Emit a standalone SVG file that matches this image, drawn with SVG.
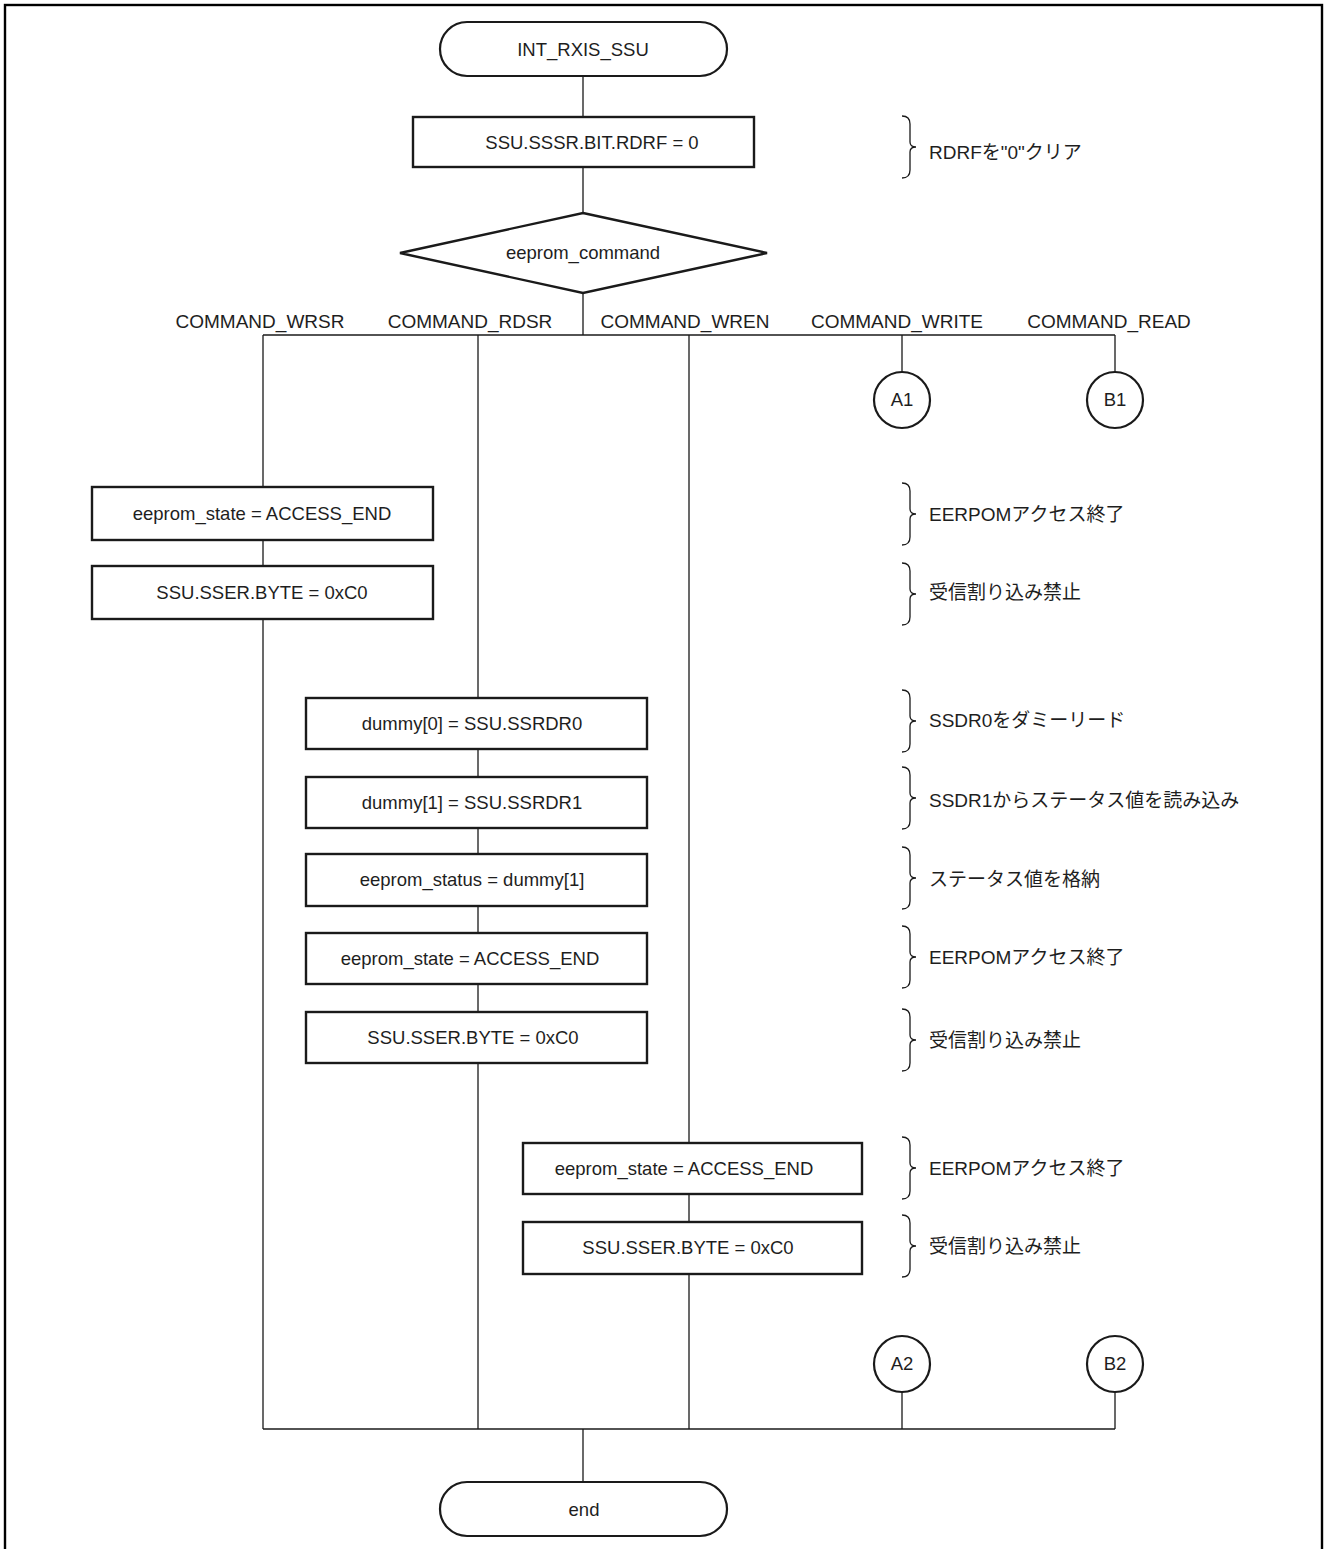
<svg xmlns="http://www.w3.org/2000/svg" width="1325" height="1549" viewBox="0 0 1325 1549">
  <style>
    .frame { fill: none; stroke: #000; stroke-width: 2.4; }
    .box { fill: #fff; stroke: #1a1a1a; stroke-width: 2.4; }
    .term { fill: #fff; stroke: #1a1a1a; stroke-width: 2.2; }
    .conn { fill: none; stroke: #1a1a1a; stroke-width: 1.3; }
    .brace { fill: none; stroke: #1a1a1a; stroke-width: 1.3; }
    text { font-family: "Liberation Sans", Arial, "Noto Sans CJK JP", sans-serif; fill: #1e1e1e; }
    .t { font-size: 18.5px; text-anchor: middle; }
    .lbl { font-size: 19px; text-anchor: middle; }
    .note { font-size: 19px; font-family: "Liberation Sans", "Noto Sans CJK JP", sans-serif; }
  </style>

  <rect class="frame" x="5" y="5" width="1317" height="1560"/>

  <!-- connectors -->
  <g id="connectors" class="conn">
    <path d="M583,76 V117 M583,167 V213 M583,293 V335"/>
    <path d="M263,335 H1115"/>
    <path d="M263,335 V487 M263,540 V566 M263,619 V1429"/>
    <path d="M478,335 V698 M478,749 V777 M478,828 V854 M478,906 V933 M478,984 V1012 M478,1063 V1429"/>
    <path d="M689,335 V1143 M689,1194 V1222 M689,1274 V1429"/>
    <path d="M902,335 V372 M1115,335 V372"/>
    <path d="M902,1392 V1429 M1115,1392 V1429"/>
    <path d="M263,1429 H1115"/>
    <path d="M583,1429 V1482"/>
  </g>

  <!-- start / end terminals -->
  <g id="start">
    <rect class="term" x="440" y="22" width="287" height="54" rx="27" ry="27"/>
    <text class="t" x="583" y="56">INT_RXIS_SSU</text>
  </g>
  <g id="end">
    <rect class="term" x="440" y="1482" width="287" height="54" rx="27" ry="27"/>
    <text class="t" x="584" y="1516">end</text>
  </g>

  <!-- clear RDRF -->
  <g id="clear-rdrf">
    <rect class="box" x="413" y="117" width="341" height="50"/>
    <text class="t" x="592" y="149">SSU.SSSR.BIT.RDRF = 0</text>
  </g>

  <!-- command switch -->
  <g id="switch">
    <polygon class="box" points="583,213 767,253 583,293 400,253"/>
    <text class="t" x="583" y="259">eeprom_command</text>
  </g>

  <!-- branch labels -->
  <g id="branch-labels">
    <text class="lbl" x="260" y="328">COMMAND_WRSR</text>
    <text class="lbl" x="470" y="328">COMMAND_RDSR</text>
    <text class="lbl" x="685" y="328">COMMAND_WREN</text>
    <text class="lbl" x="897" y="328">COMMAND_WRITE</text>
    <text class="lbl" x="1109" y="328">COMMAND_READ</text>
  </g>

  <!-- off-page connectors -->
  <g id="conn-a1"><circle class="term" cx="902" cy="400" r="28"/><text class="t" x="902" y="406">A1</text></g>
  <g id="conn-b1"><circle class="term" cx="1115" cy="400" r="28"/><text class="t" x="1115" y="406">B1</text></g>
  <g id="conn-a2"><circle class="term" cx="902" cy="1364" r="28"/><text class="t" x="902" y="1370">A2</text></g>
  <g id="conn-b2"><circle class="term" cx="1115" cy="1364" r="28"/><text class="t" x="1115" y="1370">B2</text></g>

  <!-- WRSR branch -->
  <g id="wrsr-state">
    <rect class="box" x="92" y="487" width="341" height="53"/>
    <text class="t" x="262" y="520">eeprom_state = ACCESS_END</text>
  </g>
  <g id="wrsr-sser">
    <rect class="box" x="92" y="566" width="341" height="53"/>
    <text class="t" x="262" y="599">SSU.SSER.BYTE = 0xC0</text>
  </g>

  <!-- RDSR branch -->
  <g id="rdsr-dummy0">
    <rect class="box" x="306" y="698" width="341" height="51"/>
    <text class="t" x="472" y="730">dummy[0] = SSU.SSRDR0</text>
  </g>
  <g id="rdsr-dummy1">
    <rect class="box" x="306" y="777" width="341" height="51"/>
    <text class="t" x="472" y="809">dummy[1] = SSU.SSRDR1</text>
  </g>
  <g id="rdsr-status">
    <rect class="box" x="306" y="854" width="341" height="52"/>
    <text class="t" x="472" y="886">eeprom_status = dummy[1]</text>
  </g>
  <g id="rdsr-state">
    <rect class="box" x="306" y="933" width="341" height="51"/>
    <text class="t" x="470" y="965">eeprom_state = ACCESS_END</text>
  </g>
  <g id="rdsr-sser">
    <rect class="box" x="306" y="1012" width="341" height="51"/>
    <text class="t" x="473" y="1044">SSU.SSER.BYTE = 0xC0</text>
  </g>

  <!-- WREN branch -->
  <g id="wren-state">
    <rect class="box" x="523" y="1143" width="339" height="51"/>
    <text class="t" x="684" y="1175">eeprom_state = ACCESS_END</text>
  </g>
  <g id="wren-sser">
    <rect class="box" x="523" y="1222" width="339" height="52"/>
    <text class="t" x="688" y="1254">SSU.SSER.BYTE = 0xC0</text>
  </g>

  <!-- side notes: brace + comment -->
  <defs>
    <path id="br" class="brace" d="M902,-31 Q910,-31 910,-23 V-5 Q910,0 916,0 Q910,0 910,5 V23 Q910,31 902,31"/>
  </defs>
  <g id="note-rdrf"><use href="#br" y="147"/><text class="note" x="929" y="159">RDRFを"0"クリア</text></g>
  <g id="note-end1"><use href="#br" y="514"/><text class="note" x="929" y="521">EERPOMアクセス終了</text></g>
  <g id="note-dis1"><use href="#br" y="594"/><text class="note" x="929" y="599">受信割り込み禁止</text></g>
  <g id="note-ssdr0"><use href="#br" y="721"/><text class="note" x="929" y="727">SSDR0をダミーリード</text></g>
  <g id="note-ssdr1"><use href="#br" y="798"/><text class="note" x="929" y="807">SSDR1からステータス値を読み込み</text></g>
  <g id="note-status"><use href="#br" y="878"/><text class="note" x="929" y="886">ステータス値を格納</text></g>
  <g id="note-end2"><use href="#br" y="957"/><text class="note" x="929" y="964">EERPOMアクセス終了</text></g>
  <g id="note-dis2"><use href="#br" y="1040"/><text class="note" x="929" y="1047">受信割り込み禁止</text></g>
  <g id="note-end3"><use href="#br" y="1168"/><text class="note" x="929" y="1175">EERPOMアクセス終了</text></g>
  <g id="note-dis3"><use href="#br" y="1246"/><text class="note" x="929" y="1253">受信割り込み禁止</text></g>
</svg>
